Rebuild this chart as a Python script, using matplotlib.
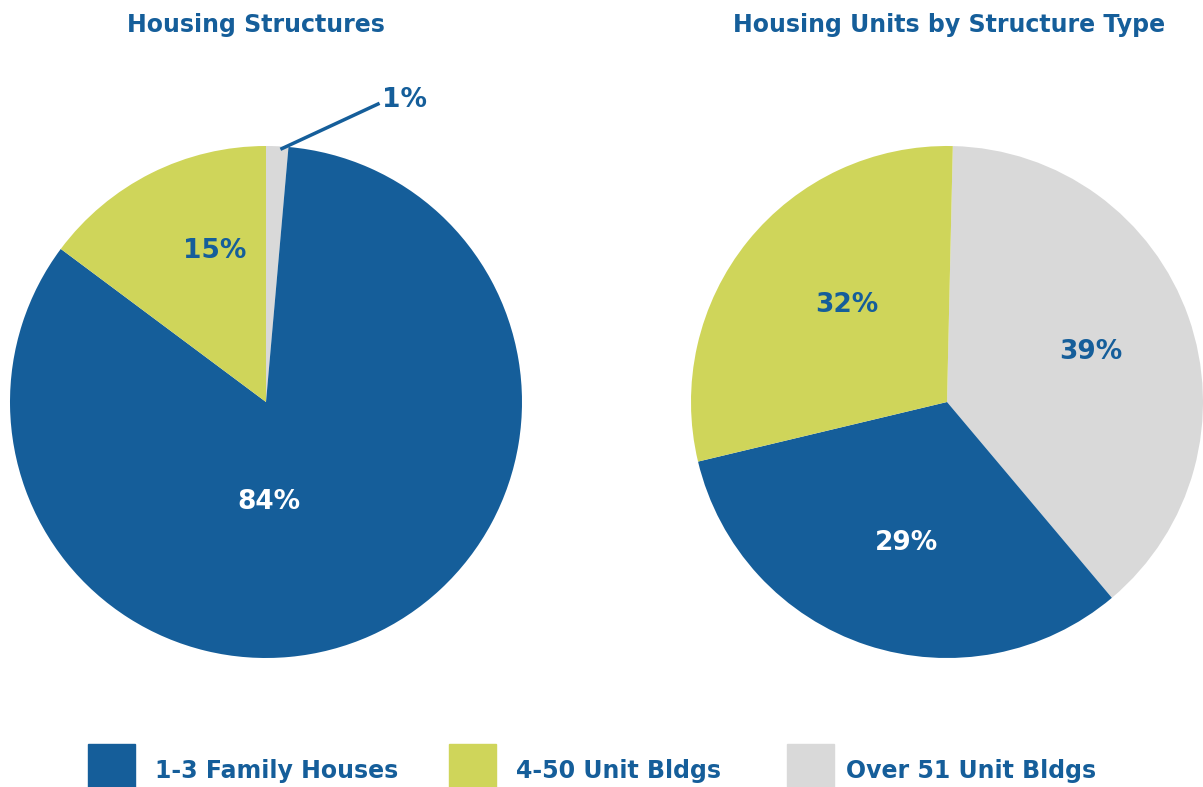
import matplotlib
matplotlib.use("Agg")
from matplotlib import pyplot as plt
from matplotlib.patches import Rectangle

plt.rcParams['font.family'] = ['DejaVu Sans']

BLUE = "#155e9a"
GREEN = "#cfd55a"
GRAY = "#d9d9d9"

categories = ["1-3 Family Houses", "4-50 Unit Bldgs", "Over 51 Unit Bldgs"]
colors = [BLUE, GREEN, GRAY]

# left pie: Housing Structures (wedge order clockwise from top: gray, blue, green)
struct_order = [2, 0, 1]
struct_values = [83.8, 14.8, 1.4]
struct_labels = ["84%", "15%", "1%"]

# right pie: Housing Units by Structure Type
units_values = [32.4, 29.1, 38.5]
units_labels = ["29%", "32%", "39%"]

fig = plt.figure(figsize=(12.03, 7.87), dpi=100)

ax1 = fig.add_axes([10 / 1203, 129 / 787, 512 / 1203, 512 / 787])
ax2 = fig.add_axes([691 / 1203, 129 / 787, 512 / 1203, 512 / 787])

# 1
ax1.pie([struct_values[i] for i in struct_order],
        colors=[colors[i] for i in struct_order],
        startangle=90, counterclock=False, radius=1)
ax1.set_xlim(-1, 1)
ax1.set_ylim(-1, 1)
ax1.set_aspect("equal")
ax1.axis("off")
ax1.text(0.01, -0.39, struct_labels[0], color="white", fontsize=19, fontweight="bold", ha="center", va="center")
ax1.text(-0.20, 0.59, struct_labels[1], color=BLUE, fontsize=19, fontweight="bold", ha="center", va="center")
ax1.plot([0.0625, 0.4375], [0.99, 1.164], color=BLUE, lw=2.5, clip_on=False)
ax1.text(0.455, 1.18, struct_labels[2], color=BLUE, fontsize=19, fontweight="bold", ha="left", va="center")

# 2
ax2.pie([units_values[2], units_values[0], units_values[1]],
        colors=[GRAY, BLUE, GREEN],
        startangle=88.7, counterclock=False, radius=1)
ax2.set_xlim(-1, 1)
ax2.set_ylim(-1, 1)
ax2.set_aspect("equal")
ax2.axis("off")
ax2.text(-0.16, -0.55, units_labels[0], color="white", fontsize=19, fontweight="bold", ha="center", va="center")
ax2.text(-0.39, 0.38, units_labels[1], color=BLUE, fontsize=19, fontweight="bold", ha="center", va="center")
ax2.text(0.56, 0.195, units_labels[2], color=BLUE, fontsize=19, fontweight="bold", ha="center", va="center")

fig.text(256 / 1203, 1 - 25 / 787, "Housing Structures", color=BLUE, fontsize=17, fontweight="bold", ha="center", va="center")
fig.text(949 / 1203, 1 - 25 / 787, "Housing Units by Structure Type", color=BLUE, fontsize=17, fontweight="bold", ha="center", va="center")

# legend
sq_x = [88, 449, 787]
txt_x = [155, 516, 846]
for i in range(3):
    fig.patches.append(Rectangle((sq_x[i] / 1203, 0), 47 / 1203, 43 / 787,
                                 transform=fig.transFigure, color=colors[i]))
    fig.text(txt_x[i] / 1203, 1 - 771 / 787, categories[i], color=BLUE, fontsize=17,
             fontweight="bold", ha="left", va="center")

fig.savefig("out.png", dpi=100)
